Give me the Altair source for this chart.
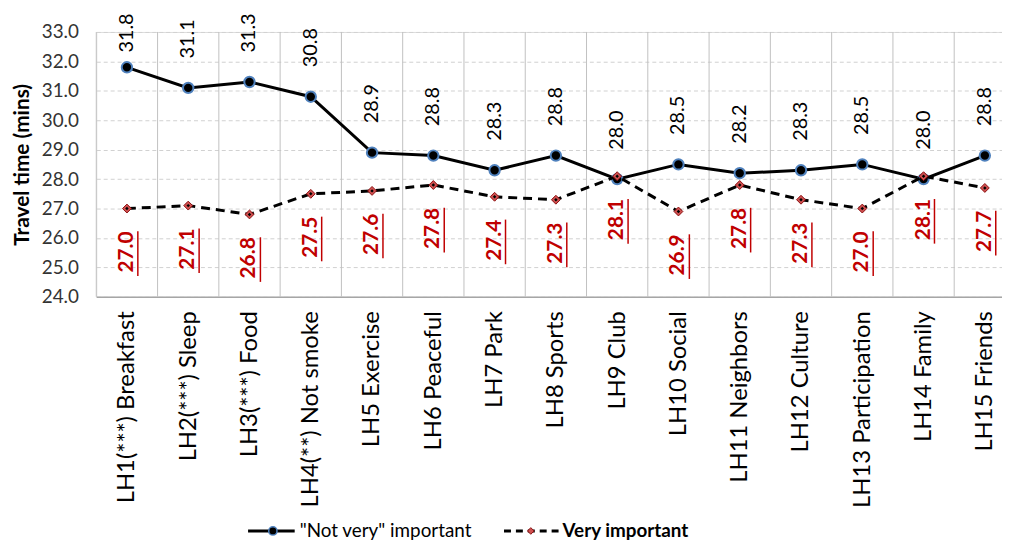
import json
import altair as alt
import pandas as pd

categories = ["LH1(***) Breakfast", "LH2(***) Sleep", "LH3(***) Food", "LH4(**) Not smoke",
              "LH5 Exercise", "LH6 Peaceful", "LH7 Park", "LH8 Sports", "LH9 Club",
              "LH10 Social", "LH11 Neighbors", "LH12 Culture", "LH13 Participation",
              "LH14 Family", "LH15 Friends"]
not_very = [31.8, 31.1, 31.3, 30.8, 28.9, 28.8, 28.3, 28.8, 28.0, 28.5, 28.2, 28.3, 28.5, 28.0, 28.8]
very = [27.0, 27.1, 26.8, 27.5, 27.6, 27.8, 27.4, 27.3, 28.1, 26.9, 27.8, 27.3, 27.0, 28.1, 27.7]
y_ticks = [24, 25, 26, 27, 28, 29, 30, 31, 32, 33]
legend_labels = ['"Not very" important', "Very important"]

FONT = "Lato"
RED = "#C00000"

df = pd.DataFrame({"cat": categories, "nv": not_very, "vi": very})
df["idx"] = list(range(len(categories)))
positions = list(range(len(categories)))

# category slots; the plot runs a little past the right edge of the picture, as in the reference
xscale = alt.Scale(domain=[-0.5, 14.28], nice=False, zero=False)
x_ax = alt.Axis(title=None, values=positions,
                labelExpr=json.dumps(categories) + "[datum.value]",
                labelAngle=-90, labelAlign="right", labelBaseline="middle",
                labelFontSize=24, labelFont=FONT, labelColor="black", labelPadding=14,
                labelLimit=0, labelOverlap=False, labelFlush=False, labelBound=False,
                ticks=False, grid=False, domainColor="#a6a6a6", domainWidth=1.5)
yscale = alt.Scale(domain=[24, 33], nice=False, zero=False)
y_ax = alt.Axis(values=y_ticks, format=".1f", title="Travel time (mins)",
                titleFontSize=21, titleFontWeight="bold", titleFont=FONT, titleColor="black",
                titlePadding=9,
                labelFontSize=19, labelFont=FONT, labelColor="#333333", labelPadding=18,
                domain=False, ticks=False, grid=True, gridDash=[4, 3],
                gridColor="#d0d0d0", gridWidth=1)


def X(field="idx:Q"):
    return alt.X(field, scale=xscale, axis=x_ax, title=None)


def Y(field):
    return alt.Y(field, scale=yscale, axis=y_ax, title="Travel time (mins)")


base = alt.Chart(df)

vgrid = base.transform_calculate(edge="datum.idx - 0.5").mark_rule(
    color="#c0c0c0", strokeWidth=1).encode(x=X("edge:Q"))

solid_line = base.mark_line(color="black", strokeWidth=3).encode(x=X(), y=Y("nv:Q"))
solid_pts = base.mark_point(shape="circle", filled=True, size=110, fill="black", stroke="#4F81BD",
                            strokeWidth=2, opacity=1).encode(x=X(), y=Y("nv:Q"))

dash_line = base.mark_line(color="black", strokeWidth=3, strokeDash=[9, 6]).encode(x=X(), y=Y("vi:Q"))
dash_pts = base.mark_point(shape="diamond", filled=True, size=80, fill="#D05050", stroke="#8B1010",
                           strokeWidth=1, opacity=1).encode(x=X(), y=Y("vi:Q"))
dash_ctr = base.mark_point(shape="diamond", filled=True, size=12, color="black", opacity=1).encode(
    x=X(), y=Y("vi:Q"))

top_labels = base.transform_calculate(lab_y="min(datum.nv + 1.0, 32.3)").mark_text(
    angle=270, align="left", baseline="middle", fontSize=20, font=FONT, color="black").encode(
    x=X(), y=Y("lab_y:Q"), text=alt.Text("nv:Q", format=".1f"))

red_labels = base.mark_text(angle=270, align="right", baseline="middle", dx=-23, fontSize=21,
                            fontWeight="bold", font=FONT, color=RED).encode(
    x=X(), y=Y("vi:Q"), text=alt.Text("vi:Q", format=".1f"))
red_under = base.mark_rule(color=RED, strokeWidth=1.5, xOffset=11, yOffset=23, y2Offset=68).encode(
    x=X(), y=Y("vi:Q"), y2="vi:Q")

# legend
leg1 = alt.Chart(pd.DataFrame({"label": [legend_labels[0]]}))
leg2 = alt.Chart(pd.DataFrame({"label": [legend_labels[1]]}))
LY = 503
l1_line = leg1.mark_rule(color="black", strokeWidth=3).encode(
    x=alt.value(153), x2=alt.value(200), y=alt.value(LY))
l1_pt = leg1.mark_point(shape="circle", filled=True, size=70, fill="black", stroke="#4F81BD",
                        strokeWidth=1.5, opacity=1).encode(x=alt.value(178), y=alt.value(LY))
l1_txt = leg1.mark_text(align="left", baseline="middle", fontSize=19, font=FONT, color="black").encode(
    x=alt.value(205), y=alt.value(LY), text="label:N")
l2_line = leg2.mark_rule(color="black", strokeWidth=3, strokeDash=[7, 5]).encode(
    x=alt.value(411), x2=alt.value(466), y=alt.value(LY))
l2_pt = leg2.mark_point(shape="diamond", filled=True, size=45, fill="#D05050", stroke="#8B1010",
                        strokeWidth=1, opacity=1).encode(x=alt.value(438), y=alt.value(LY))
l2_txt = leg2.mark_text(align="left", baseline="middle", fontSize=19, font=FONT, fontWeight="bold",
                        color="black").encode(x=alt.value(470), y=alt.value(LY), text="label:N")

chart = alt.layer(
    vgrid, solid_line, solid_pts, dash_line, dash_pts, dash_ctr, top_labels, red_labels, red_under,
    l1_line, l1_pt, l1_txt, l2_line, l2_pt, l2_txt
).properties(
    width=913, height=267, autosize="none",
    padding={"left": 89, "top": 22, "right": 0, "bottom": 249},
).configure_view(stroke=None).configure(background="white")

chart.save("out.html", embed_options={"renderer": "svg", "actions": False})
